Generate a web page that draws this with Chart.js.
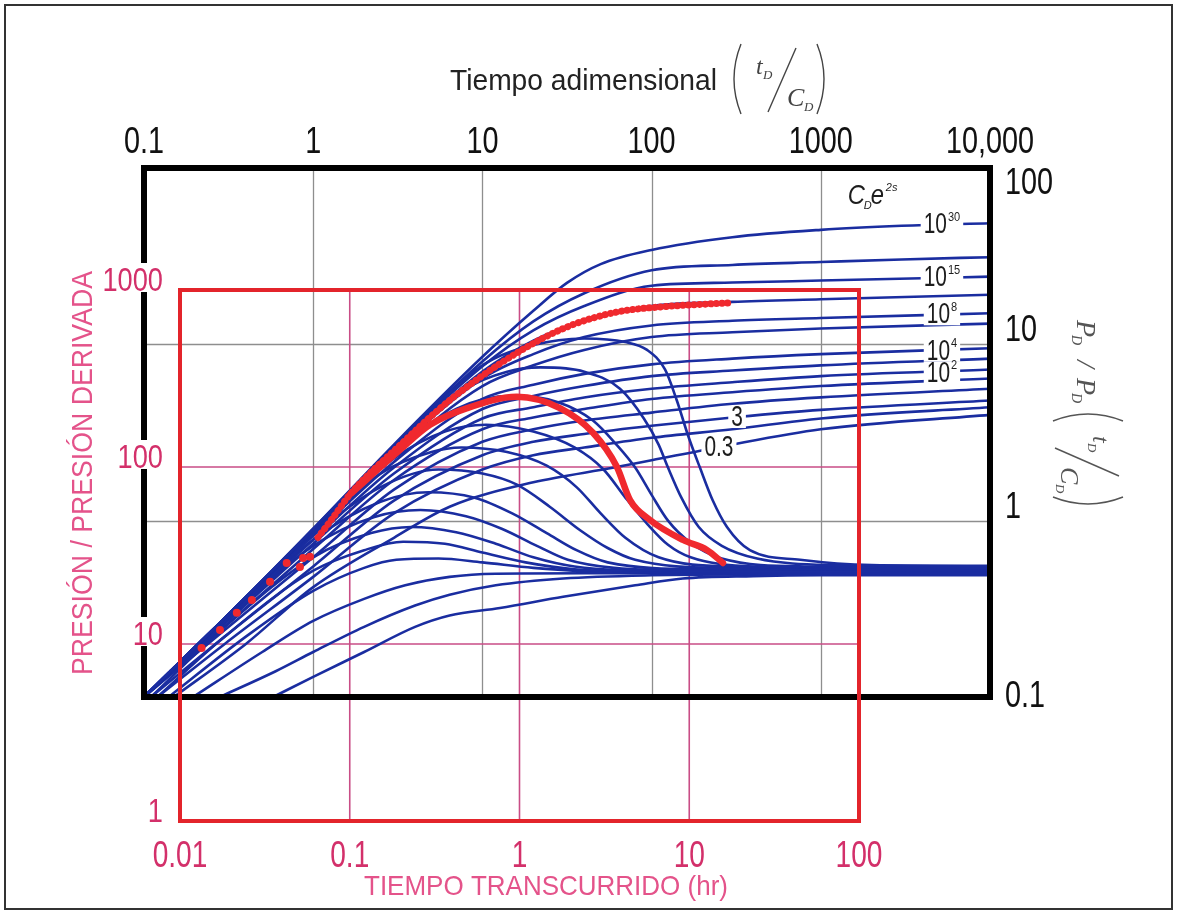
<!DOCTYPE html>
<html lang="es">
<head>
<meta charset="utf-8">
<title>Curvas tipo de Bourdet</title>
<script src="https://cdn.jsdelivr.net/npm/chart.js@4.4.1/dist/chart.umd.min.js"></script>
<style>
    html, body { margin: 0; padding: 0; background: #fff; }
    #wrap { width: 1177px; height: 914px; position: relative; }
</style>
</head>
<body>
<div id="wrap"><canvas id="curvasTipo"></canvas></div>
<script>
// valores de C_D e^2s, de la curva superior a la inferior
var cde2s = ['10^30', '10^20', '10^15', '10^10', '10^8', '10^6', '10^4', '10^3', '10^2', '30', '10', '3', '1', '0.3'];

// presion adimensional p_D contra t_D/C_D (una curva por cada C_D e^2s)
var pdCurves = [
    [[0.1,0.1],[0.3,0.28],[1,0.9],[3,2.7],[10,8.5],[20,15.5],[31.6,22.3],[50,28.5],[100,34.3],[300,40.5],[1000,44.6],[3000,47],[10000,48.6]],
    [[0.1,0.1],[0.3,0.28],[1,0.9],[3,2.65],[10,8.0],[20,13.5],[40,19.5],[100,26.3],[300,28.2],[1000,29.3],[3000,30.3],[10000,31.2]],
    [[0.1,0.1],[0.3,0.28],[1,0.89],[3,2.6],[10,7.5],[20,12],[40,16.5],[100,21.5],[300,22.4],[1000,23.0],[10000,24.2]],
    [[0.1,0.1],[0.3,0.28],[1,0.88],[3,2.55],[10,7.0],[20,10.5],[40,13.5],[100,16.5],[300,17.4],[1000,18.0],[10000,19.1]],
    [[0.1,0.1],[0.3,0.28],[1,0.87],[3,2.45],[10,6.4],[20,8.8],[40,11],[100,12.8],[300,13.6],[1000,14.1],[10000,15.0]],
    [[0.1,0.1],[0.3,0.28],[1,0.85],[3,2.35],[10,5.8],[20,7.6],[40,9.3],[100,11.0],[300,11.7],[1000,12.3],[10000,13.1]],
    [[0.1,0.1],[0.3,0.27],[1,0.82],[3,2.15],[10,4.9],[20,5.9],[40,6.8],[100,7.7],[300,8.3],[1000,8.8],[10000,9.5]],
    [[0.1,0.1],[0.3,0.27],[1,0.78],[3,2.0],[10,4.3],[20,5.1],[40,5.8],[100,6.6],[300,7.1],[1000,7.6],[10000,8.3]],
    [[0.1,0.1],[0.3,0.26],[1,0.74],[3,1.85],[10,3.8],[20,4.4],[40,5.0],[100,5.6],[300,6.1],[1000,6.6],[10000,7.2]],
    [[0.1,0.1],[0.3,0.25],[1,0.69],[3,1.7],[10,3.3],[20,3.85],[40,4.3],[100,4.9],[300,5.35],[1000,5.8],[10000,6.4]],
    [[0.1,0.1],[0.3,0.24],[1,0.62],[3,1.5],[10,2.8],[20,3.3],[40,3.7],[100,4.1],[300,4.6],[1000,5.0],[10000,5.6]],
    [[0.11,0.1],[0.3,0.22],[1,0.55],[3,1.3],[10,2.35],[20,2.8],[40,3.1],[100,3.45],[320,3.87],[1000,4.25],[10000,4.8]],
    [[0.12,0.1],[0.3,0.2],[1,0.48],[3,1.1],[10,1.95],[20,2.35],[40,2.6],[100,2.95],[300,3.3],[1000,3.8],[10000,4.4]],
    [[0.15,0.1],[0.4,0.2],[1,0.42],[3,0.8],[6.4,1.2],[20,1.65],[60,2.0],[100,2.2],[254,2.62],[1000,3.3],[10000,3.98]]
];

// derivada de la presion, mismas curvas
var derivCurves = [
    [[0.1,0.1],[0.3,0.28],[1,0.88],[3,2.6],[10,7.6],[20,9.9],[40,10.8],[70,10.3],[94,9.3],[120,7.2],[141,4.8],[165,3.0],[193,2.0],[230,1.3],[279,0.92],[381,0.68],[754,0.6],[2000,0.56],[10000,0.555]],
    [[0.1,0.1],[0.3,0.28],[1,0.88],[3,2.5],[8,5.6],[14,7.0],[22,7.4],[40,7.0],[65,5.6],[90,3.8],[110,2.7],[125,2.0],[150,1.35],[190,0.92],[260,0.72],[420,0.61],[1200,0.56],[10000,0.55]],
    [[0.1,0.1],[0.3,0.28],[1,0.87],[3,2.4],[7,4.3],[15,5.1],[28,4.7],[45,3.7],[62,2.7],[80,2.0],[100,1.4],[125,1.0],[170,0.75],[260,0.61],[800,0.55],[10000,0.545]],
    [[0.1,0.1],[0.3,0.28],[1,0.86],[3,2.25],[6,3.2],[10.5,3.5],[20,3.2],[35,2.6],[52,1.95],[70,1.35],[95,0.95],[125,0.73],[170,0.62],[400,0.55],[10000,0.54]],
    [[0.1,0.1],[0.3,0.28],[1,0.85],[2.5,1.85],[5,2.45],[7.5,2.6],[14,2.45],[24,2.05],[36,1.55],[50,1.1],[70,0.8],[110,0.62],[300,0.55],[10000,0.535]],
    [[0.1,0.1],[0.3,0.28],[1,0.83],[2.5,1.55],[5.5,1.95],[10,1.85],[16,1.6],[25,1.2],[38,0.88],[55,0.7],[80,0.6],[250,0.54],[10000,0.53]],
    [[0.1,0.1],[0.3,0.27],[1,0.78],[2.5,1.28],[4.8,1.45],[9,1.35],[15,1.1],[24,0.85],[36,0.68],[55,0.58],[200,0.53],[10000,0.525]],
    [[0.1,0.1],[0.3,0.27],[1,0.72],[2.3,1.05],[4.3,1.15],[8,1.06],[13,0.9],[21,0.72],[32,0.6],[60,0.54],[200,0.52],[10000,0.52]],
    [[0.11,0.1],[0.3,0.25],[1,0.62],[2.2,0.85],[3.8,0.92],[7,0.86],[12,0.74],[20,0.62],[35,0.55],[150,0.515],[10000,0.515]],
    [[0.12,0.1],[0.3,0.22],[1,0.52],[2,0.68],[3.4,0.76],[6,0.74],[10,0.66],[18,0.58],[35,0.53],[150,0.51],[10000,0.51]],
    [[0.14,0.1],[0.4,0.22],[1,0.4],[2,0.54],[3.1,0.6],[5.5,0.61],[10,0.58],[20,0.54],[60,0.51],[10000,0.505]],
    [[0.195,0.1],[0.5,0.18],[1,0.27],[2,0.36],[3.5,0.43],[6.4,0.48],[12,0.5],[40,0.503],[10000,0.5]],
    [[0.28,0.1],[0.6,0.14],[1,0.18],[2,0.25],[4,0.33],[6.4,0.38],[12,0.43],[30,0.47],[100,0.49],[400,0.495],[10000,0.495]],
    [[0.58,0.1],[1,0.13],[2,0.18],[4,0.25],[6.4,0.29],[12.7,0.32],[30,0.37],[80,0.43],[153,0.47],[400,0.485],[1000,0.49],[10000,0.49]]
];

// datos de la prueba: tiempo transcurrido (hr) contra presion y derivada
var puntosT = [0.0134, 0.0172, 0.0216, 0.0265, 0.0339, 0.0425, 0.0509, 0.0531, 0.0583];
var puntosP = [9.5, 12.0, 15.0, 17.7, 22.5, 28.7, 27.2, 30.6, 31.1];
var presionT = [0.065, 0.08, 0.1003, 0.198, 0.39, 0.966, 1.905, 3.75, 6.72, 16.9];
var presionP = [40, 52, 70, 133, 239, 441, 618, 751, 802, 845];
var derivadaT = [0.1003, 0.198, 0.297, 0.491, 0.966, 1.73, 2.71, 3.75, 4.48, 5.87, 9.19, 12.7, 15.8];
var derivadaP = [70, 125, 173, 215, 249, 215, 156, 100, 65, 50.2, 38.7, 34, 28.7];

// marcas de los ejes
var topTicks = [0.1, 1, 10, 100, 1000, 10000];
var topTickText = ['0.1', '1', '10', '100', '1000', '10,000'];
var rightTicks = [100, 10, 1, 0.1];
var rightTickText = ['100', '10', '1', '0.1'];
var bottomTicks = [0.01, 0.1, 1, 10, 100];
var bottomTickText = ['0.01', '0.1', '1', '10', '100'];
var leftTicks = [1000, 100, 10, 1];
var leftTickText = ['1000', '100', '10', '1'];

// rotulos sobre las curvas (t_D/C_D, valor)
var curveTags = [
    { text: '10', sup: '30', t: 5200, v: 48 },
    { text: '10', sup: '15', t: 5200, v: 24 },
    { text: '10', sup: '8', t: 5200, v: 14.8 },
    { text: '10', sup: '4', t: 5200, v: 9.2 },
    { text: '10', sup: '2', t: 5200, v: 6.9 },
    { text: '3', sup: '', t: 320, v: 3.87 },
    { text: '0.3', sup: '', t: 250, v: 2.62 }
];

// marco negro (curvas tipo) y marco rojo (datos), en pixeles
var box = { left: 144, right: 990, top: 168, bottom: 697 };
var redBox = { left: 180, right: 859, top: 290, bottom: 821 };
var area = { left: 144, right: 990, top: 168, bottom: 821 };

var BLUE = '#1a2da0';
var RED = '#f0292e';
var PINK_TXT = '#d3306a';
var PINK_TITLE = '#e4538a';
var NUM_FONT = "'Liberation Sans', Arial, sans-serif";
var SERIF = "'Liberation Serif', 'DejaVu Serif', serif";

function logRange(v1, p1, v2, p2, pa, pb) {
    var k = (Math.log10(v2) - Math.log10(v1)) / (p2 - p1);
    var a = Math.pow(10, Math.log10(v1) + (pa - p1) * k);
    var b = Math.pow(10, Math.log10(v1) + (pb - p1) * k);
    return [Math.min(a, b), Math.max(a, b)];
}

var ybRange = logRange(0.1, box.bottom, 100, box.top, area.bottom, area.top);
var xrRange = logRange(0.01, redBox.left, 100, redBox.right, area.left, area.right);
var yrRange = logRange(1, redBox.bottom, 1000, redBox.top, area.bottom, area.top);

function toPoints(curve) {
    return curve.map(function (p) { return { x: p[0], y: p[1] }; });
}

function zip(xs, ys) {
    return xs.map(function (x, i) { return { x: x, y: ys[i] }; });
}

function blueLine(curve) {
    return {
        data: toPoints(curve),
        borderColor: BLUE,
        borderWidth: 2.6,
        pointRadius: 0,
        fill: false,
        cubicInterpolationMode: 'monotone',
        xAxisID: 'xb',
        yAxisID: 'yb',
        order: 2
    };
}

var datasets = [
    {
        data: zip(puntosT, puntosP),
        showLine: false,
        pointRadius: 4,
        pointBorderWidth: 0,
        pointBackgroundColor: RED,
        xAxisID: 'xr', yAxisID: 'yr', order: 0
    },
    {
        data: zip(presionT, presionP),
        borderColor: RED,
        borderWidth: 7,
        borderDash: [0.1, 5.5],
        borderCapStyle: 'round',
        pointRadius: 0,
        cubicInterpolationMode: 'monotone',
        xAxisID: 'xr', yAxisID: 'yr', order: 0
    },
    {
        data: zip(derivadaT, derivadaP),
        borderColor: RED,
        borderWidth: 6.5,
        borderCapStyle: 'round',
        pointRadius: 0,
        cubicInterpolationMode: 'monotone',
        xAxisID: 'xr', yAxisID: 'yr', order: 0
    }
];
pdCurves.forEach(function (c) { datasets.push(blueLine(c)); });
derivCurves.forEach(function (c) { datasets.push(blueLine(c)); });

function text(ctx, s, x, y, o) {
    ctx.save();
    ctx.font = o.font;
    ctx.fillStyle = o.color || '#111';
    ctx.textAlign = o.align || 'center';
    ctx.textBaseline = o.base || 'middle';
    ctx.translate(x, y);
    if (o.rot) ctx.rotate(o.rot);
    var sx = o.sx || 1;
    if (o.width) sx = o.width / ctx.measureText(s).width;
    ctx.scale(sx, 1);
    ctx.fillText(s, 0, 0);
    ctx.restore();
}

function textWidth(ctx, s, font, sx) {
    ctx.save();
    ctx.font = font;
    var w = ctx.measureText(s).width * (sx || 1);
    ctx.restore();
    return w;
}

// (t_D / C_D) con parentesis altos; (x, y) = inicio del parentesis sobre la linea base
function drawFraction(ctx, x, y, color) {
    ctx.save();
    ctx.strokeStyle = color;
    ctx.fillStyle = color;
    ctx.lineWidth = 1.4;
    ctx.beginPath();
    ctx.moveTo(x + 9, y - 46);
    ctx.quadraticCurveTo(x - 5, y - 11, x + 9, y + 24);
    ctx.stroke();
    ctx.beginPath();
    ctx.moveTo(x + 85, y - 46);
    ctx.quadraticCurveTo(x + 99, y - 11, x + 85, y + 24);
    ctx.stroke();
    ctx.textAlign = 'left';
    ctx.textBaseline = 'alphabetic';
    ctx.font = 'italic 24px ' + SERIF;
    ctx.fillText('t', x + 24, y - 16);
    ctx.font = 'italic 13px ' + SERIF;
    ctx.fillText('D', x + 31, y - 11);
    ctx.beginPath();
    ctx.moveTo(x + 36, y + 22);
    ctx.lineTo(x + 64, y - 42);
    ctx.stroke();
    ctx.font = 'italic 26px ' + SERIF;
    ctx.fillText('C', x + 55, y + 16);
    ctx.font = 'italic 13px ' + SERIF;
    ctx.fillText('D', x + 72, y + 21);
    ctx.restore();
}

var overlay = {
    id: 'overlay',
    beforeDatasetsDraw: function (chart) {
        var ctx = chart.ctx;
        var s = chart.scales;
        ctx.save();
        // rejilla gris de las curvas tipo
        ctx.strokeStyle = '#8e8e8e';
        ctx.lineWidth = 1.3;
        [1, 10, 100, 1000].forEach(function (v) {
            var x = Math.round(s.xb.getPixelForValue(v)) + 0.5;
            ctx.beginPath();
            ctx.moveTo(x, s.yb.getPixelForValue(100));
            ctx.lineTo(x, s.yb.getPixelForValue(0.1));
            ctx.stroke();
        });
        [10, 1].forEach(function (v) {
            var y = Math.round(s.yb.getPixelForValue(v)) + 0.5;
            ctx.beginPath();
            ctx.moveTo(s.xb.getPixelForValue(0.1), y);
            ctx.lineTo(s.xb.getPixelForValue(10000), y);
            ctx.stroke();
        });
        // rejilla rosa de los datos
        ctx.strokeStyle = '#c94d86';
        ctx.lineWidth = 1.6;
        [0.1, 1, 10].forEach(function (v) {
            var x = s.xr.getPixelForValue(v);
            ctx.beginPath();
            ctx.moveTo(x, s.yr.getPixelForValue(1000));
            ctx.lineTo(x, s.yr.getPixelForValue(1));
            ctx.stroke();
        });
        [100, 10].forEach(function (v) {
            var y = s.yr.getPixelForValue(v);
            ctx.beginPath();
            ctx.moveTo(s.xr.getPixelForValue(0.01), y);
            ctx.lineTo(s.xr.getPixelForValue(100), y);
            ctx.stroke();
        });
        ctx.restore();
    },
    afterDatasetsDraw: function (chart) {
        var ctx = chart.ctx;
        var s = chart.scales;
        var bl = s.xb.getPixelForValue(0.1), br = s.xb.getPixelForValue(10000);
        var bt = s.yb.getPixelForValue(100), bb = s.yb.getPixelForValue(0.1);
        var rl = s.xr.getPixelForValue(0.01), rr = s.xr.getPixelForValue(100);
        var rt = s.yr.getPixelForValue(1000), rb = s.yr.getPixelForValue(1);

        // rotulos de C_D e^2s sobre las curvas
        var tagFont = '29px ' + NUM_FONT, supFont = '13px ' + NUM_FONT;
        curveTags.forEach(function (tag) {
            var x = s.xb.getPixelForValue(tag.t), y = s.yb.getPixelForValue(tag.v);
            var w = textWidth(ctx, tag.text, tagFont, 0.72);
            var ws = tag.sup ? textWidth(ctx, tag.sup, supFont, 0.85) + 1 : 0;
            var left = x - (w + ws) / 2;
            ctx.fillStyle = '#fff';
            ctx.fillRect(left - 3, y - 11, w + ws + 6, 22);
            text(ctx, tag.text, left, y + 1, { font: tagFont, color: '#1d1d1d', align: 'left', sx: 0.72 });
            if (tag.sup) text(ctx, tag.sup, left + w + 1, y - 7, { font: supFont, color: '#1d1d1d', align: 'left', sx: 0.85 });
        });
        // C_D e^2s
        var cx = s.xb.getPixelForValue(1950), cy = s.yb.getPixelForValue(71);
        text(ctx, 'C', cx - 22, cy + 10, { font: 'italic 28px ' + NUM_FONT, color: '#1d1d1d', align: 'left', base: 'alphabetic', sx: 0.85 });
        text(ctx, 'D', cx - 6, cy + 15, { font: 'italic 11px ' + NUM_FONT, color: '#1d1d1d', align: 'left', base: 'alphabetic' });
        text(ctx, 'e', cx + 1, cy + 10, { font: 'italic 28px ' + NUM_FONT, color: '#1d1d1d', align: 'left', base: 'alphabetic', sx: 0.85 });
        text(ctx, '2s', cx + 16, cy - 3, { font: 'italic 11px ' + NUM_FONT, color: '#1d1d1d', align: 'left', base: 'alphabetic' });

        ctx.save();
        // marco negro
        ctx.strokeStyle = '#000';
        ctx.lineWidth = 6;
        ctx.strokeRect(bl, bt, br - bl, bb - bt);
        // marco rojo
        ctx.strokeStyle = '#e3242b';
        ctx.lineWidth = 4;
        ctx.strokeRect(rl, rt, rr - rl, rb - rt);
        ctx.restore();

        // escala superior (t_D/C_D)
        var tickFont = '36px ' + NUM_FONT;
        topTicks.forEach(function (v, i) {
            text(ctx, topTickText[i], s.xb.getPixelForValue(v), bt - 25, { font: tickFont, color: '#111', sx: 0.8 });
        });
        // escala derecha (p_D)
        rightTicks.forEach(function (v, i) {
            var y = s.yb.getPixelForValue(v);
            var base = 'alphabetic', yy = y - 3;
            if (i === 0) { base = 'top'; yy = y - 2; }
            if (i === rightTicks.length - 1) { base = 'middle'; yy = y; }
            text(ctx, rightTickText[i], br + 15, yy, { font: tickFont, color: '#111', align: 'left', base: base, sx: 0.8 });
        });
        // escala inferior (hr)
        bottomTicks.forEach(function (v, i) {
            text(ctx, bottomTickText[i], s.xr.getPixelForValue(v), rb + 36, { font: tickFont, color: PINK_TXT, sx: 0.78 });
        });
        // escala izquierda (presion), con fondo blanco sobre el eje negro
        leftTicks.forEach(function (v, i) {
            var y = s.yr.getPixelForValue(v);
            var w = textWidth(ctx, leftTickText[i], '34px ' + NUM_FONT, 0.8);
            ctx.fillStyle = '#fff';
            ctx.fillRect(bl + 19 - w - 3, y - 27, w + 6, 29);
            text(ctx, leftTickText[i], bl + 19, y + 1, { font: '34px ' + NUM_FONT, color: PINK_TXT, align: 'right', base: 'alphabetic', sx: 0.8 });
        });

        // titulos
        text(ctx, 'Tiempo adimensional', 450, 90, { font: '29px ' + NUM_FONT, color: '#222', align: 'left', base: 'alphabetic', width: 267 });
        drawFraction(ctx, 732, 90, '#444');
        text(ctx, 'TIEMPO TRANSCURRIDO (hr)', 546, 887, { font: '28px ' + NUM_FONT, color: PINK_TITLE, width: 364 });
        text(ctx, 'PRESIÓN / PRESIÓN DERIVADA', 84, 473, { font: '30px ' + NUM_FONT, color: PINK_TITLE, rot: -Math.PI / 2, width: 404 });

        // titulo derecho girado: p_D / p_D (t_D/C_D)
        ctx.save();
        ctx.translate(1077, 320);
        ctx.rotate(Math.PI / 2);
        ctx.fillStyle = '#555';
        ctx.textAlign = 'left';
        ctx.textBaseline = 'alphabetic';
        ctx.font = 'italic 28px ' + SERIF;
        ctx.fillText('P', 0, 0);
        ctx.fillText('/', 40, 0);
        ctx.fillText('P', 58, 0);
        ctx.font = 'italic 14px ' + SERIF;
        ctx.fillText('D', 15, 5);
        ctx.fillText('D', 73, 5);
        drawFraction(ctx, 92, 0, '#555');
        ctx.restore();

        // borde de la figura
        ctx.save();
        ctx.strokeStyle = '#333';
        ctx.lineWidth = 2;
        ctx.strokeRect(5, 5, 1167, 904);
        ctx.restore();
    }
};

new Chart(document.getElementById('curvasTipo').getContext('2d'), {
    type: 'line',
    data: { datasets: datasets },
    options: {
        responsive: true,
        maintainAspectRatio: false,
        animation: false,
        events: [],
        layout: {
            padding: { left: area.left, top: area.top, right: 1177 - area.right, bottom: 914 - area.bottom }
        },
        plugins: {
            legend: { display: false },
            tooltip: { enabled: false }
        },
        scales: {
            xb: { type: 'logarithmic', axis: 'x', position: 'top', display: false, bounds: 'data', min: 0.1, max: 10000 },
            yb: { type: 'logarithmic', axis: 'y', position: 'right', display: false, bounds: 'data', min: ybRange[0], max: ybRange[1] },
            xr: { type: 'logarithmic', axis: 'x', position: 'bottom', display: false, bounds: 'data', min: xrRange[0], max: xrRange[1] },
            yr: { type: 'logarithmic', axis: 'y', position: 'left', display: false, bounds: 'data', min: yrRange[0], max: yrRange[1] }
        }
    },
    plugins: [overlay]
});
</script>
</body>
</html>
